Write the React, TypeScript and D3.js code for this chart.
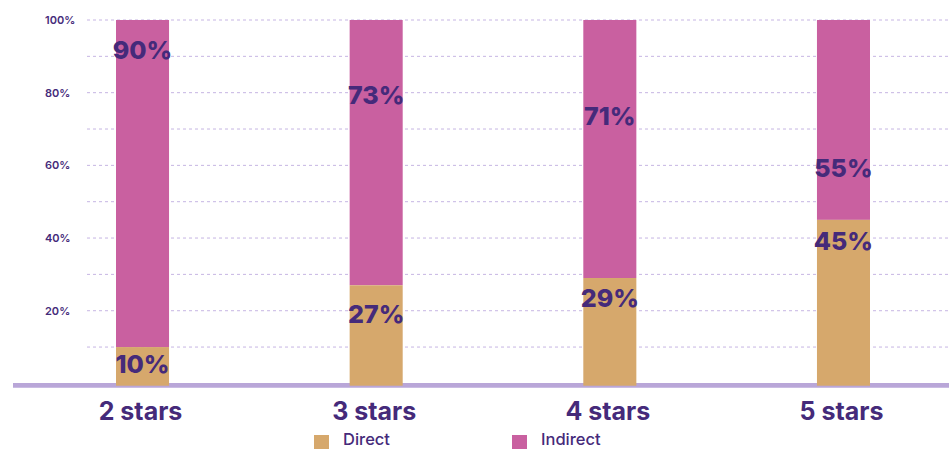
import React from "react";
import * as d3 from "d3";

const categories = ["2 stars", "3 stars", "4 stars", "5 stars"];
const directValues = [10, 27, 29, 45];
const indirectValues = [90, 73, 71, 55];
// label anchor positions (in % units)
const directLabelAt = [5.3, 19.0, 23.6, 39.2];
const indirectLabelAt = [91.8, 79.3, 73.5, 59.3];
const yTicks = [20, 40, 60, 80, 100];
const gridTicks = [10, 20, 30, 40, 50, 60, 70, 80, 90, 100];
const seriesNames = ["Direct", "Indirect"];

const W = 949;
const H = 449;
const FONT = "Inter, 'Open Sans', sans-serif";
const DARK = "#452a7a";
const PINK = "#c960a0";
const ORANGE = "#d6a86c";
const GRID = "#c6b5e3";
const AXIS = "#b9a6d8";

export default function App() {
  const x = d3.scaleBand<string>().domain(categories).range([116, 870]).paddingInner(0.773).paddingOuter(0);
  const y = d3.scaleLinear().domain([0, 100]).range([383.4, 20]);
  const colors = [ORANGE, PINK];
  const stack = categories.map((c, i) => ({ c, d: directValues[i], ind: indirectValues[i] }));

  return (
    <svg width={W} height={H} style={{ position: "absolute", left: 0, top: 0, display: "block" }}>
      <rect width={W} height={H} fill="#fff" />
      {gridTicks.map((t) => (
        <line key={t} x1={87} x2={W} y1={y(t)} y2={y(t)} stroke={GRID} strokeWidth={1} strokeDasharray="3 3" />
      ))}
      {yTicks.map((t) => (
        <text key={t} x={45} y={y(t)} dy="0.35em" fontFamily={FONT} fontSize={11} fontWeight={600} fill={DARK}>
          {t}%
        </text>
      ))}
      <line x1={13} x2={W} y1={385.4} y2={385.4} stroke={AXIS} strokeWidth={4.6} />
      {stack.map((s, i) => {
        const bx = x(s.c)!;
        const bw = x.bandwidth();
        return (
          <g key={s.c}>
            <rect x={bx} y={y(s.d + s.ind)} width={bw} height={y(s.d) - y(s.d + s.ind)} fill={PINK} />
            <rect x={bx} y={y(s.d)} width={bw} height={y(0) + 2.3 - y(s.d)} fill={ORANGE} />
            <text x={bx + bw / 2} y={y(indirectLabelAt[i])} dy="0.36em" textAnchor="middle" fontFamily={FONT} fontSize={25} fontWeight={800} fill={DARK}>
              {s.ind}%
            </text>
            <text x={bx + bw / 2} y={y(directLabelAt[i])} dy="0.36em" textAnchor="middle" fontFamily={FONT} fontSize={25} fontWeight={800} fill={DARK}>
              {s.d}%
            </text>
            <text x={bx + bw / 2 - 2} y={420} textAnchor="middle" fontFamily={FONT} fontSize={25} fontWeight={700} fill={DARK}>
              {s.c}
            </text>
          </g>
        );
      })}
      {seriesNames.map((n, i) => (
        <g key={n} transform={`translate(${314 + i * 198},0)`}>
          <rect x={0} y={435} width={15} height={14} fill={colors[i]} />
          <text x={29} y={445} fontFamily={FONT} fontSize={16.5} fontWeight={500} fill={DARK}>
            {n}
          </text>
        </g>
      ))}
    </svg>
  );
}
